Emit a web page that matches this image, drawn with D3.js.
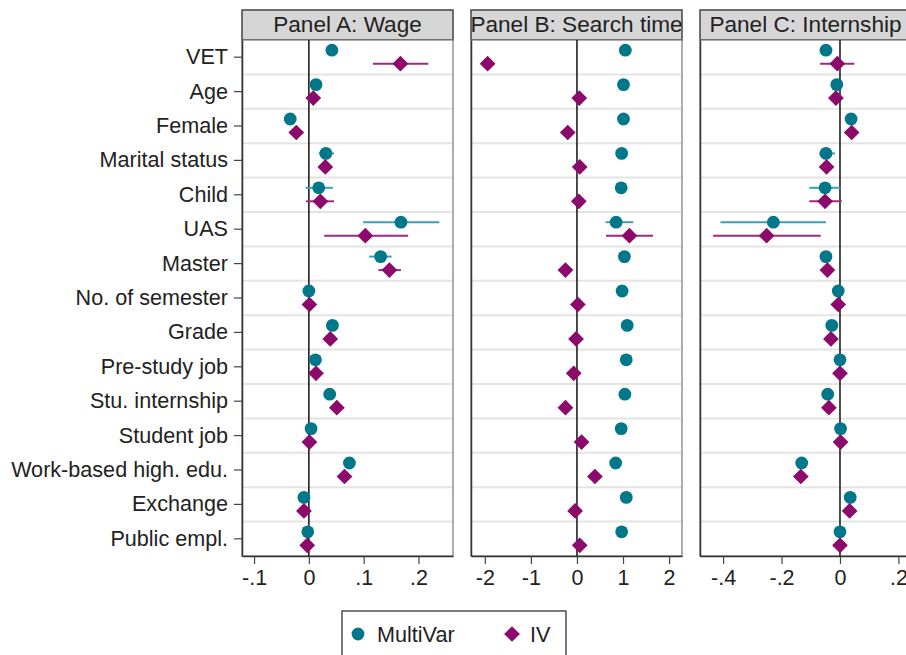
<!DOCTYPE html>
<html lang="en">
<head>
  <meta charset="UTF-8">
  <title>Coefficient plot</title>
  <style>
    body { margin: 0; background: #fff; }
    text { font-family: "Liberation Sans", Arial, sans-serif; fill: #222; }
  </style>
</head>
<body>
  <svg id="svg" width="906" height="655"></svg>

  <script src="https://d3js.org/d3.v7.min.js"></script>
  <script>
    // ------ DATA ------------------------
    const categories = ['VET', 'Age', 'Female', 'Marital status', 'Child', 'UAS', 'Master',
      'No. of semester', 'Grade', 'Pre-study job', 'Stu. internship', 'Student job',
      'Work-based high. edu.', 'Exchange', 'Public empl.']

    const panelTitles = ['Panel A: Wage', 'Panel B: Search time', 'Panel C: Internship']

    // Panel A: Wage
    const wageMulti = [0.042, 0.013, -0.034, 0.031, 0.018, 0.168, 0.131, 0.0, 0.043, 0.012, 0.038, 0.004, 0.074, -0.009, -0.002]
    const wageMultiLo = [null, null, null, 0.018, -0.006, 0.099, 0.110, null, null, null, null, null, null, null, null]
    const wageMultiHi = [null, null, null, 0.046, 0.044, 0.238, 0.151, null, null, null, null, null, null, null, null]
    const wageIV = [0.167, 0.008, -0.023, 0.030, 0.021, 0.103, 0.147, 0.001, 0.039, 0.013, 0.051, 0.001, 0.065, -0.009, -0.003]
    const wageIVLo = [0.117, null, null, null, -0.005, 0.028, 0.127, null, null, null, null, null, null, null, null]
    const wageIVHi = [0.218, null, null, null, 0.046, 0.181, 0.168, null, null, null, null, null, null, null, null]

    // Panel B: Search time
    const searchMulti = [1.05, 1.01, 1.01, 0.97, 0.96, 0.85, 1.03, 0.98, 1.09, 1.07, 1.04, 0.96, 0.84, 1.07, 0.97]
    const searchMultiLo = [null, null, null, null, null, 0.62, null, null, null, null, null, null, null, null, null]
    const searchMultiHi = [null, null, null, null, null, 1.22, null, null, null, null, null, null, null, null, null]
    const searchIV = [-1.94, 0.05, -0.20, 0.06, 0.04, 1.14, -0.25, 0.02, -0.02, -0.07, -0.25, 0.10, 0.39, -0.04, 0.06]
    const searchIVLo = [null, null, null, null, null, 0.63, null, null, null, null, null, null, null, null, null]
    const searchIVHi = [null, null, null, null, null, 1.65, null, null, null, null, null, null, null, null, null]

    // Panel C: Internship
    const internMulti = [-0.048, -0.011, 0.038, -0.048, -0.051, -0.228, -0.048, -0.006, -0.028, 0.0, -0.042, 0.002, -0.131, 0.035, 0.0]
    const internMultiLo = [null, null, null, -0.071, -0.105, -0.409, null, null, null, null, null, null, null, null, null]
    const internMultiHi = [null, null, null, -0.017, 0.002, -0.048, null, null, null, null, null, null, null, null, null]
    const internIV = [-0.009, -0.014, 0.040, -0.046, -0.051, -0.251, -0.043, -0.006, -0.031, 0.0, -0.038, 0.002, -0.134, 0.033, 0.0]
    const internIVLo = [-0.068, null, null, null, -0.105, -0.434, null, null, null, null, null, null, null, null, null]
    const internIVHi = [0.049, null, null, null, 0.006, -0.066, null, null, null, null, null, null, null, null, null]

    // x ticks per panel
    const ticksA = [-0.1, 0, 0.1, 0.2]
    const tickLabelsA = ['-.1', '0', '.1', '.2']
    const ticksB = [-2, -1, 0, 1, 2]
    const tickLabelsB = ['-2', '-1', '0', '1', '2']
    const ticksC = [-0.4, -0.2, 0, 0.2]
    const tickLabelsC = ['-.4', '-.2', '0', '.2']

    const seriesNames = ['MultiVar', 'IV']

    // ------ LAYOUT ------------------------
    const plotTop = 40
    const plotBottom = 556
    const headerTop = 10
    const panelW = 211
    const colors = { multi: '#00788a', iv: '#8b0a6b', multiCI: '#3aa0b0', ivCI: '#9c2a83' }

    const panels = [
      { title: panelTitles[0], left: 242, domain: [-0.122, 0.263], ticks: ticksA, labels: tickLabelsA,
        multi: wageMulti, multiLo: wageMultiLo, multiHi: wageMultiHi, iv: wageIV, ivLo: wageIVLo, ivHi: wageIVHi },
      { title: panelTitles[1], left: 471, domain: [-2.30, 2.28], ticks: ticksB, labels: tickLabelsB,
        multi: searchMulti, multiLo: searchMultiLo, multiHi: searchMultiHi, iv: searchIV, ivLo: searchIVLo, ivHi: searchIVHi },
      { title: panelTitles[2], left: 700, domain: [-0.479, 0.243], ticks: ticksC, labels: tickLabelsC,
        multi: internMulti, multiLo: internMultiLo, multiHi: internMultiHi, iv: internIV, ivLo: internIVLo, ivHi: internIVHi }
    ]

    // ------ SCALES ------------------------
    const yscale = d3.scaleBand()
      .domain(categories)
      .range([plotTop, plotBottom])
      .padding(0)
    const bw = yscale.bandwidth()
    const yMid = d => yscale(d) + bw / 2
    const offMulti = -7
    const offIV = 6.5

    const svg = d3.select('#svg')
    const diamond = d3.symbol(d3.symbolSquare).size(124)

    panels.forEach((p, pi) => {
      const xscale = d3.scaleLinear().domain(p.domain).range([p.left, p.left + panelW])
      const g = svg.append('g')

      // header strip
      g.append('rect')
        .attr('x', p.left).attr('y', headerTop)
        .attr('width', panelW).attr('height', plotTop - headerTop)
        .attr('fill', '#d6d6d6').attr('stroke', '#444').attr('stroke-width', 1.5)
      g.append('text')
        .attr('x', p.left + panelW / 2).attr('y', headerTop + 22)
        .attr('text-anchor', 'middle')
        .style('font-size', '22.6px')
        .text(p.title)

      // plot frame
      g.append('rect')
        .attr('x', p.left).attr('y', plotTop)
        .attr('width', panelW).attr('height', plotBottom - plotTop)
        .attr('fill', '#fff').attr('stroke', '#777').attr('stroke-width', 1.2)

      // horizontal grid lines between rows
      g.selectAll('line.grid')
        .data(categories.slice(1))
        .enter()
        .append('line')
        .attr('class', 'grid')
        .attr('x1', p.left + 1).attr('x2', p.left + panelW - 1)
        .attr('y1', d => yscale(d)).attr('y2', d => yscale(d))
        .attr('stroke', '#e4e4e4').attr('stroke-width', 2)

      // zero line
      g.append('line')
        .attr('x1', xscale(0)).attr('x2', xscale(0))
        .attr('y1', plotTop).attr('y2', plotBottom)
        .attr('stroke', '#111').attr('stroke-width', 1.5)

      // bottom axis
      const bottomAxis = d3.axisBottom(xscale)
        .tickValues(p.ticks)
        .tickFormat((d, i) => p.labels[i])
        .tickSize(8)
        .tickSizeOuter(0)
        .tickPadding(6)
      const ax = g.append('g')
        .attr('transform', `translate(0, ${plotBottom})`)
        .call(bottomAxis)
      ax.select('.domain').attr('stroke', '#333').attr('stroke-width', 1.5)
      ax.selectAll('.tick line').attr('stroke', '#444').attr('stroke-width', 1.2)
      ax.selectAll('.tick text').style('font-size', '21.5px').attr('fill', '#222')
        .style('font-family', '"Liberation Sans", Arial, sans-serif')

      // left axis (only first panel has labels)
      const leftAxis = d3.axisLeft(yscale)
        .tickSize(pi === 0 ? 8 : 0)
        .tickSizeOuter(0)
        .tickPadding(6)
        .tickFormat(pi === 0 ? (d => d) : (() => ''))
      const ay = g.append('g')
        .attr('transform', `translate(${p.left}, 0)`)
        .call(leftAxis)
      ay.select('.domain').attr('stroke', '#333').attr('stroke-width', 1.5)
      ay.selectAll('.tick line').attr('stroke', '#444').attr('stroke-width', 1.2)
      ay.selectAll('.tick text').style('font-size', '21.6px').attr('fill', '#222')
        .style('font-family', '"Liberation Sans", Arial, sans-serif')

      // confidence intervals
      const ciData = (lo, hi, off) => categories
        .map((c, i) => ({ c, lo: lo[i], hi: hi[i], off }))
        .filter(d => d.lo !== null && d.hi !== null)

      g.selectAll('line.ciMulti')
        .data(ciData(p.multiLo, p.multiHi, offMulti))
        .enter()
        .append('line')
        .attr('x1', d => xscale(d.lo)).attr('x2', d => xscale(d.hi))
        .attr('y1', d => yMid(d.c) + d.off).attr('y2', d => yMid(d.c) + d.off)
        .attr('stroke', colors.multiCI).attr('stroke-width', 2)

      g.selectAll('line.ciIV')
        .data(ciData(p.ivLo, p.ivHi, offIV))
        .enter()
        .append('line')
        .attr('x1', d => xscale(d.lo)).attr('x2', d => xscale(d.hi))
        .attr('y1', d => yMid(d.c) + d.off).attr('y2', d => yMid(d.c) + d.off)
        .attr('stroke', colors.ivCI).attr('stroke-width', 2)

      // point estimates
      g.selectAll('circle.multi')
        .data(categories.map((c, i) => ({ c, v: p.multi[i] })))
        .enter()
        .append('circle')
        .attr('cx', d => xscale(d.v))
        .attr('cy', d => yMid(d.c) + offMulti)
        .attr('r', 6.4)
        .attr('fill', colors.multi)

      g.selectAll('path.iv')
        .data(categories.map((c, i) => ({ c, v: p.iv[i] })))
        .enter()
        .append('path')
        .attr('d', diamond)
        .attr('transform', d => `translate(${xscale(d.v)}, ${yMid(d.c) + offIV}) rotate(45)`)
        .attr('fill', colors.iv)
    })

    // ------ LEGEND ------------------------
    const legend = svg.append('g')
    legend.append('rect')
      .attr('x', 342).attr('y', 611)
      .attr('width', 224).attr('height', 60)
      .attr('fill', '#fff').attr('stroke', '#333').attr('stroke-width', 1.3)
    legend.append('circle')
      .attr('cx', 358).attr('cy', 634).attr('r', 6.4)
      .attr('fill', colors.multi)
    legend.append('text')
      .attr('x', 377).attr('y', 642)
      .style('font-size', '21.6px')
      .text(seriesNames[0])
    legend.append('path')
      .attr('d', diamond)
      .attr('transform', 'translate(512, 634) rotate(45)')
      .attr('fill', colors.iv)
    legend.append('text')
      .attr('x', 530).attr('y', 642)
      .style('font-size', '21.6px')
      .text(seriesNames[1])
  </script>
</body>
</html>
